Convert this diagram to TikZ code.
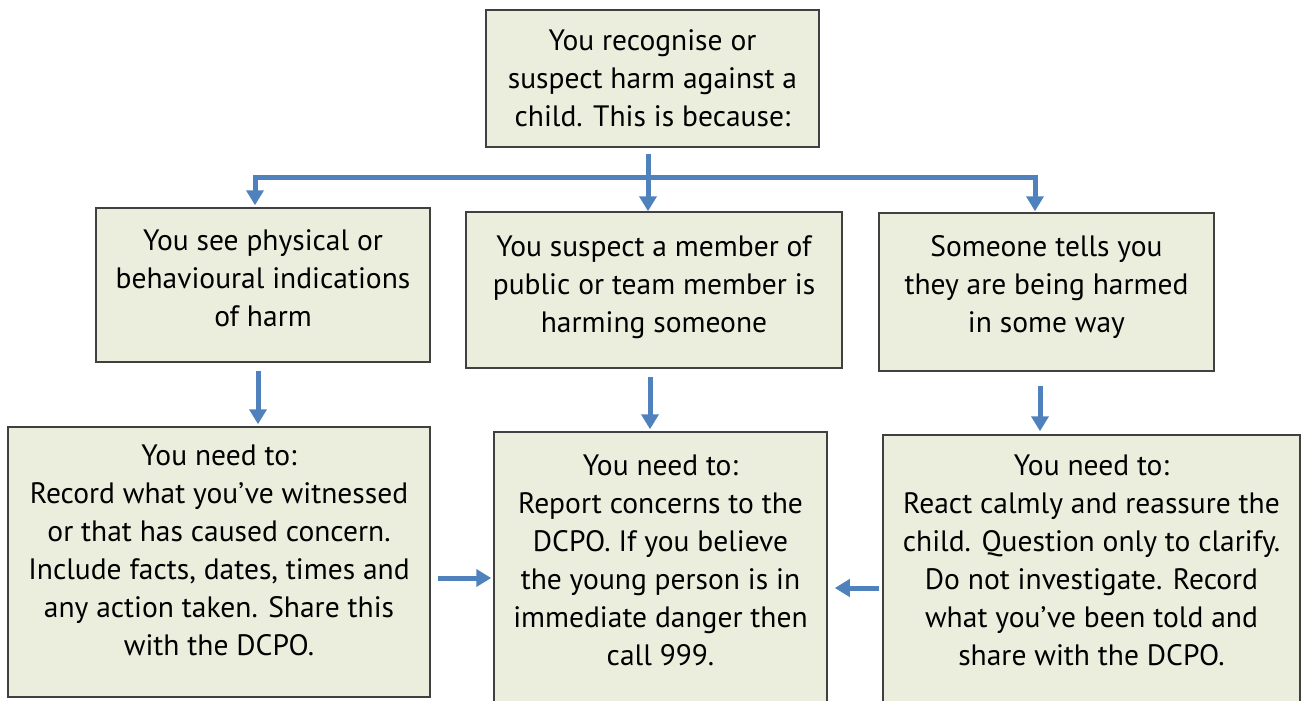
\documentclass[tikz,border=0pt]{standalone}
\usepackage{fontspec}
\setmainfont{PT Sans}
\usetikzlibrary{shapes,arrows.meta}

\definecolor{boxfill}{RGB}{235,238,221}
\definecolor{boxline}{RGB}{64,64,64}
\definecolor{flowblue}{RGB}{79,129,189}

\tikzset{
  stepbox/.style={draw=boxline, line width=1.5pt, fill=boxfill, align=center, inner sep=0pt,
    font=\fontsize{29.5}{38}\selectfont},
  flow/.style={draw=flowblue, line width=5pt, -{Triangle[length=15pt,width=17pt]}}
}

\begin{document}
\begin{tikzpicture}[x=1pt,y=-1pt]
\useasboundingbox (0,0) rectangle (1302,701);
\node[stepbox, minimum width=333pt, minimum height=137pt] (top) at (652.5,78.5) {You recognise or\\suspect harm against a\\child. This is because:};
\node[stepbox, minimum width=334pt, minimum height=154pt] (see) at (263,285) {You see physical or\\behavioural indications\\of harm\\[-24pt]};
\node[stepbox, minimum width=376pt, minimum height=156pt] (suspect) at (654,290) {You suspect a member of\\public or team member is\\harming someone\\[-26pt]};
\node[stepbox, minimum width=335pt, minimum height=158pt] (tells) at (1046.5,292) {Someone tells you\\they are being harmed\\in some way\\[-22pt]};
\node[stepbox, minimum width=422pt, minimum height=270pt] (record) at (219,562) {You need to:\\Record what you’ve witnessed\\or that has caused concern.\\Include facts, dates, times and\\any action taken. Share this\\with the DCPO.\\[-14pt]};
\node[stepbox, minimum width=333pt, minimum height=272pt] (report) at (660.5,568) {You need to:\\Report concerns to the\\DCPO. If you believe\\the young person is in\\immediate danger then\\call 999.\\[-22pt]};
\node[stepbox, minimum width=417pt, minimum height=270pt] (react) at (1091.5,570) {You need to:\\React calmly and reassure the\\child. Question only to clarify.\\Do not investigate. Record\\what you’ve been told and\\share with the DCPO.\\[-18pt]};

\coordinate (split) at (648,177);
\coordinate (dropL) at (255,177);
\coordinate (dropR) at (1035,177);
\coordinate (downL) at (258,0);
\coordinate (downM) at (650,0);
\coordinate (downR) at (1040,0);
\coordinate (sideL) at (0,578);
\coordinate (sideR) at (0,588);

\draw[flow] ([yshift=-6pt]top.south -| split) -- (suspect.north -| split);
\draw[flow] (dropR) -- (dropL) -- ([yshift=2pt]see.north -| dropL);
\draw[flow] (dropL) -- (dropR) -- ([yshift=1pt]tells.north -| dropR);

\draw[flow] ([yshift=-8pt]see.south -| downL) -- ([yshift=2pt]record.north -| downL);
\draw[flow] ([yshift=-8pt]suspect.south -| downM) -- ([yshift=2pt]report.north -| downM);
\draw[flow] ([yshift=-14pt]tells.south -| downR) -- ([yshift=3pt]react.north -| downR);

\draw[flow] ([xshift=7pt]record.east |- sideL) -- ([xshift=-2pt]report.west |- sideL);
\draw[flow] ([xshift=-3pt]react.west |- sideR) -- ([xshift=7pt]report.east |- sideR);
\end{tikzpicture}
\end{document}
